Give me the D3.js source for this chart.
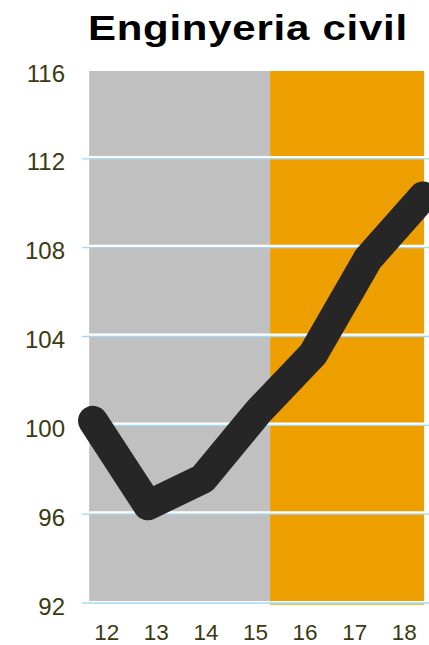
<!DOCTYPE html>
<html>
<head>
<meta charset="utf-8">
<script src="https://cdn.jsdelivr.net/npm/d3@7"></script>
<style>
  html, body { margin: 0; padding: 0; background: #fff; }
  svg { display: block; }
  text { font-family: "Liberation Sans", Arial, sans-serif; }
</style>
</head>
<body>
<svg id="chart" width="429" height="645"></svg>
<script>
// Index values per year (two-digit years)
const years = [12, 13, 14, 15, 16, 17, 18];
const values = [100.2, 96.4, 97.6, 100.6, 103.2, 107.5, 110.3];
const yTicks = [92, 96, 100, 104, 108, 112, 116];
const gridValues = [96, 100, 104, 108, 112];
// Shaded periods (in year units)
const periodStart = [11.93, 15.22];
const periodEnd = [15.22, 18.02];
const periodColor = ["#c0c0c0", "#ee9f00"];
const title = "Enginyeria civil";

const svg = d3.select("#chart");

const y = d3.scaleLinear().domain([92, 116]).range([603, 70]);
const xLine = d3.scaleLinear().domain([12, 18]).range([93, 423]);
const xLabel = d3.scaleBand().domain(years).range([82, 429]).paddingInner(0);

const plotTop = y(116) + 1;
const plotBottom = y(92) - 2;

// background periods
svg.append("g").selectAll("rect")
  .data(periodStart.map((s, i) => ({ s, e: periodEnd[i], c: periodColor[i] })))
  .join("rect")
  .attr("x", d => xLine(d.s))
  .attr("width", d => xLine(d.e) - xLine(d.s))
  .attr("y", plotTop)
  .attr("height", plotBottom - plotTop)
  .attr("fill", d => d.c);

// thin strip under the second period at the baseline
svg.append("rect")
  .attr("x", xLine(periodStart[1]))
  .attr("width", xLine(periodEnd[1]) - xLine(periodStart[1]))
  .attr("y", y(92) + 0.5)
  .attr("height", 1.2)
  .attr("fill", periodColor[1]);

// gridlines: white band with a light blue hairline
const grid = svg.append("g");
grid.selectAll("line.w")
  .data(gridValues)
  .join("line")
  .attr("class", "w")
  .attr("x1", xLine(periodStart[0])).attr("x2", 429)
  .attr("y1", d => y(d) - 1.6).attr("y2", d => y(d) - 1.6)
  .attr("stroke", "#ffffff").attr("stroke-width", 2.6);
grid.selectAll("line.b")
  .data(gridValues.concat([92]))
  .join("line")
  .attr("class", "b")
  .attr("x1", 82).attr("x2", 429)
  .attr("y1", d => y(d)).attr("y2", d => y(d))
  .attr("stroke", "#a6d8f2").attr("stroke-width", 1.3);

// y axis labels
svg.append("g").selectAll("text")
  .data(yTicks)
  .join("text")
  .attr("x", 65)
  .attr("y", d => y(d) + 3)
  .attr("text-anchor", "end")
  .attr("dominant-baseline", "central")
  .attr("font-size", 24)
  .attr("fill", "#3c3a10")
  .text(d => d);

// x axis labels
svg.append("g").selectAll("text")
  .data(years)
  .join("text")
  .attr("x", d => xLabel(d) + xLabel.bandwidth() / 2)
  .attr("y", 640)
  .attr("text-anchor", "middle")
  .attr("font-size", 22.5)
  .attr("fill", "#3c3a10")
  .text(d => d);

// the index line
const line = d3.line()
  .x((d, i) => xLine(years[i]))
  .y(d => y(d));

svg.append("path")
  .datum(values)
  .attr("d", line)
  .attr("fill", "none")
  .attr("stroke", "#262626")
  .attr("stroke-width", 30)
  .attr("stroke-linecap", "round")
  .attr("stroke-linejoin", "round");

// title, widened
svg.append("text")
  .attr("transform", "translate(247.5,40) scale(1.2,1)")
  .attr("text-anchor", "middle")
  .attr("font-size", 35)
  .attr("font-weight", "bold")
  .attr("fill", "#000")
  .attr("textLength", 266)
  .attr("lengthAdjust", "spacing")
  .text(title);
</script>
</body>
</html>
